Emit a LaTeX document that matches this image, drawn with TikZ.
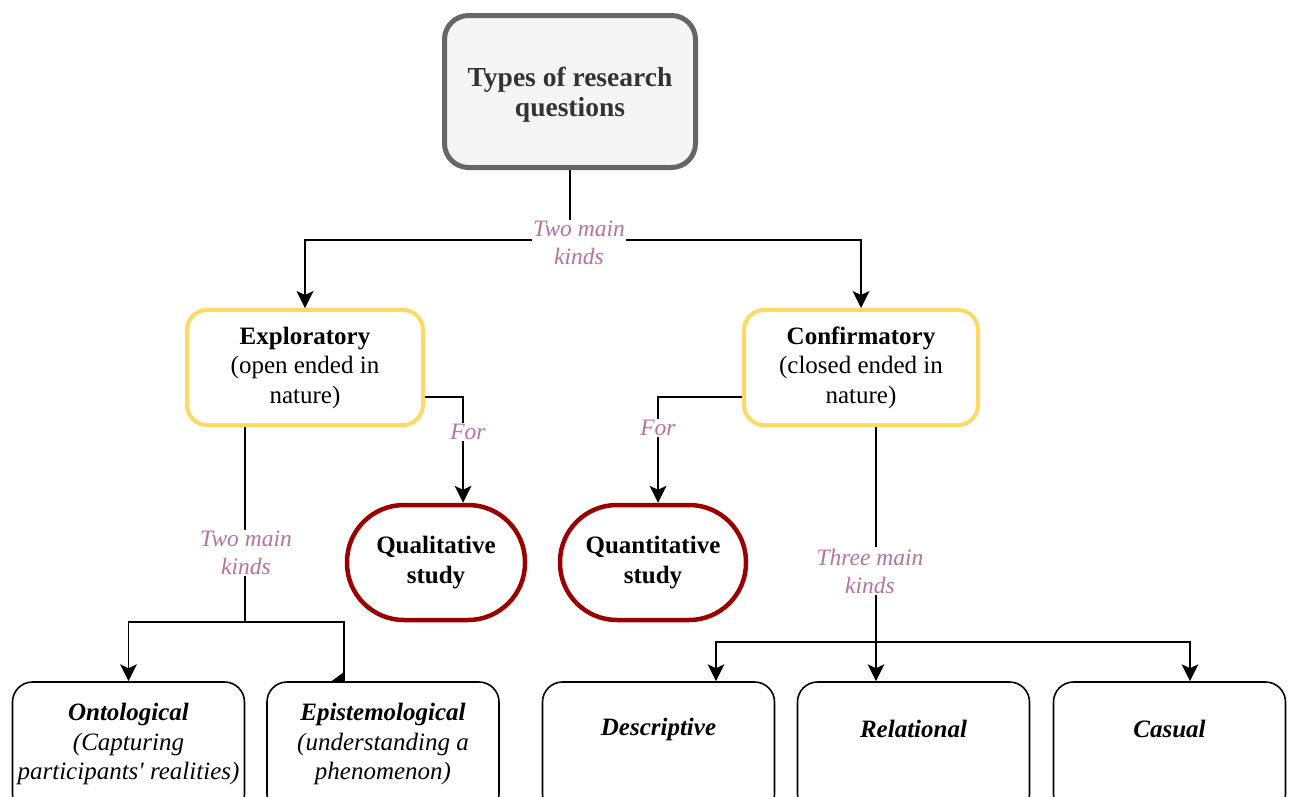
\documentclass[tikz,border=0pt]{standalone}
\usepackage{fontspec}
\setmainfont{Liberation Serif}
\usetikzlibrary{arrows.meta}
\definecolor{labelpink}{HTML}{B5739D}
\definecolor{rootgray}{HTML}{666666}
\definecolor{rootfill}{HTML}{F5F5F5}
\definecolor{roottext}{HTML}{333333}
\definecolor{kindyellow}{HTML}{FFD966}
\definecolor{studyred}{HTML}{990000}
\tikzset{
  boxtext/.style={font=\fontsize{25}{29.5}\selectfont, align=center, text=black},
  rootbox/.style={draw=rootgray, line width=5pt, fill=rootfill, rounded corners=24pt,
    minimum width=251pt, minimum height=152pt, inner sep=0pt},
  kindbox/.style={boxtext, draw=kindyellow, line width=4pt, fill=white, rounded corners=20pt,
    minimum height=115pt, inner sep=0pt},
  studybox/.style={boxtext, draw=studyred, line width=4.5pt, fill=white, rounded corners=57pt,
    minimum height=115pt, inner sep=0pt},
  leafbox/.style={draw=black, line width=1.6pt, fill=white, rounded corners=20pt,
    minimum height=132pt, minimum width=232pt, inner sep=0pt},
  leaftext/.style={boxtext, inner sep=0pt},
  edgelabel/.style={font=\fontsize{23.5}{28}\selectfont\itshape, text=labelpink, fill=white,
    align=center, inner sep=1.5pt},
  conn/.style={line width=1.6pt, draw=black},
  arr/.style={conn, -{Stealth[length=17pt, width=17pt, inset=4pt, line width=0pt]}},
}
\begin{document}
\begin{tikzpicture}[x=1pt, y=-1pt]
  \useasboundingbox (0,0) rectangle (1291,796);
  \clip (0,0) rectangle (1291,796);

  % root
  \node[rootbox] (root) at (570,91.5) {};
  \node[boxtext, text=roottext, font=\fontsize{27.5}{30.5}\selectfont, inner sep=0pt]
    (rootT) at (570,94.5) {\textbf{Types of research}\\\textbf{questions}};

  % two kinds of questions
  \node[kindbox, minimum width=236pt] (expl) at (305,367.5)
    {\textbf{Exploratory}\\(open ended in\\nature)};
  \node[kindbox, minimum width=234pt] (conf) at (861,367.5)
    {\textbf{Confirmatory}\\(closed ended in\\nature)};

  % studies
  \node[studybox, minimum width=178pt] (qual) at (436,562.5) {\textbf{Qualitative}\\\textbf{study}};
  \node[studybox, minimum width=186pt] (quant) at (653,562.5) {\textbf{Quantitative}\\\textbf{study}};

  % leaf boxes (run past the lower edge)
  \node[leafbox] (onto) at (128.5,748) {};
  \node[leaftext] (ontoT) at (128.5,744)
    {\textbf{\textit{Ontological}}\\\textit{(Capturing}\\\textit{participants\textquotesingle{} realities)}};
  \node[leafbox] (epis) at (383,748) {};
  \node[leaftext] (episT) at (383,744)
    {\textbf{\textit{Epistemological}}\\\textit{(understanding a}\\\textit{phenomenon)}};
  \node[leafbox] (desc) at (658.5,748) {};
  \node[leaftext] (descT) at (658.5,729) {\textbf{\textit{Descriptive}}};
  \node[leafbox] (rel) at (913.5,748) {};
  \node[leaftext] (relT) at (913.5,729) {\textbf{\textit{Relational}}};
  \node[leafbox] (cas) at (1169.5,748) {};
  \node[leaftext] (casT) at (1169.5,729) {\textbf{\textit{Casual}}};

  % root to the two kinds
  \coordinate (rootsplit) at (root.south |- 0,240);
  \draw[conn] (root.south) -- (rootsplit);
  \draw[arr] (rootsplit) -| (expl.north);
  \draw[arr] (rootsplit) -| (conf.north);
  \node[edgelabel] (lblroot) at (579,243) {Two main\\kinds};

  % kinds to studies
  \coordinate (explout) at (expl.east |- 0,397);
  \coordinate (qualin) at (qual.north -| 463,0);
  \draw[arr] (explout) -| (qualin);
  \node[edgelabel] (lblqual) at (468,432) {For};
  \coordinate (confout) at (conf.west |- 0,397);
  \coordinate (quantin) at (quant.north -| 658,0);
  \draw[arr] (confout) -| (quantin);
  \node[edgelabel] (lblquant) at (658,428) {For};

  % exploratory to its two kinds
  \coordinate (explbot) at (expl.south -| 245,0);
  \coordinate (explsplit) at (245,622);
  \draw[conn] (explbot) -- (explsplit);
  \draw[arr] (explsplit) -| (onto.north);
  \coordinate (episin) at (epis.north -| 344,0);
  \draw[conn] (explsplit) -| (episin);
  \fill[black] (344,672) -- (344,682) -- (329,683) -- cycle;
  \node[edgelabel] (lblexpl) at (246,553) {Two main\\kinds};

  % confirmatory to its three kinds
  \coordinate (confbot) at (conf.south -| 876,0);
  \coordinate (confsplit) at (876,642);
  \draw[arr] (confbot) -- (rel.north -| 876,0);
  \draw[arr] (confsplit) -| (desc.north -| 716,0);
  \draw[arr] (confsplit) -| (cas.north -| 1190,0);
  \node[edgelabel] (lblconf) at (870,571) {Three main\\kinds};
\end{tikzpicture}
\end{document}
